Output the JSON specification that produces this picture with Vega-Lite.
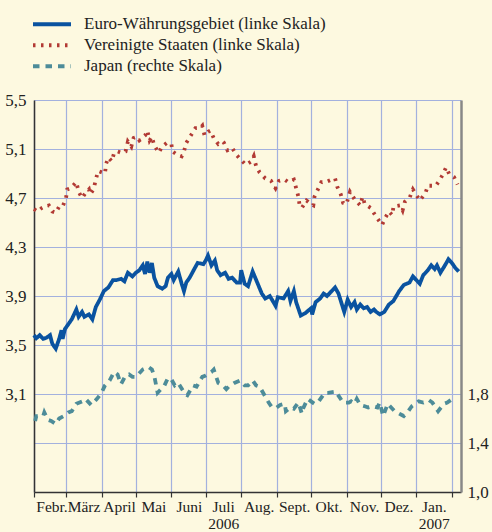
{
"$schema": "https://vega.github.io/schema/vega-lite/v6.json",
"width": 427, "height": 392,
"autosize": {"type": "none"},
"padding": {"left": 34, "top": 100, "right": 31, "bottom": 40},
"background": "#fdf9e0",
"config": {
  "view": {"stroke": null},
  "font": "Liberation Serif",
  "axis": {"labelFont": "Liberation Serif", "labelFontSize": 16, "labelColor": "#222", "gridColor": "#a3b1de", "gridWidth": 1.2, "gridOpacity": 1, "title": null}
},
"datasets": {"y": [
{"d":"2006-02-01","s":"EA","v":3.58},{"d":"2006-02-03","s":"EA","v":3.555},{"d":"2006-02-06","s":"EA","v":3.58},{"d":"2006-02-09","s":"EA","v":3.55},{"d":"2006-02-12","s":"EA","v":3.56},{"d":"2006-02-15","s":"EA","v":3.58},{"d":"2006-02-17","s":"EA","v":3.51},{"d":"2006-02-20","s":"EA","v":3.47},{"d":"2006-02-23","s":"EA","v":3.55},{"d":"2006-02-25","s":"EA","v":3.62},{"d":"2006-02-26","s":"EA","v":3.55},{"d":"2006-02-28","s":"EA","v":3.63},
{"d":"2006-03-03","s":"EA","v":3.67},{"d":"2006-03-06","s":"EA","v":3.71},{"d":"2006-03-10","s":"EA","v":3.79},{"d":"2006-03-12","s":"EA","v":3.73},{"d":"2006-03-15","s":"EA","v":3.77},{"d":"2006-03-17","s":"EA","v":3.73},{"d":"2006-03-21","s":"EA","v":3.75},{"d":"2006-03-24","s":"EA","v":3.71},{"d":"2006-03-27","s":"EA","v":3.81},{"d":"2006-03-31","s":"EA","v":3.88},
{"d":"2006-04-03","s":"EA","v":3.94},{"d":"2006-04-07","s":"EA","v":3.97},{"d":"2006-04-11","s":"EA","v":4.03},{"d":"2006-04-14","s":"EA","v":4.03},{"d":"2006-04-18","s":"EA","v":4.04},{"d":"2006-04-21","s":"EA","v":4.02},{"d":"2006-04-24","s":"EA","v":4.09},{"d":"2006-04-28","s":"EA","v":4.06},
{"d":"2006-05-01","s":"EA","v":4.09},{"d":"2006-05-04","s":"EA","v":4.11},{"d":"2006-05-07","s":"EA","v":4.15},{"d":"2006-05-09","s":"EA","v":4.08},{"d":"2006-05-11","s":"EA","v":4.18},{"d":"2006-05-13","s":"EA","v":4.09},{"d":"2006-05-15","s":"EA","v":4.17},{"d":"2006-05-17","s":"EA","v":4.05},{"d":"2006-05-20","s":"EA","v":3.98},{"d":"2006-05-24","s":"EA","v":3.96},{"d":"2006-05-27","s":"EA","v":3.98},{"d":"2006-05-29","s":"EA","v":4.05},
{"d":"2006-06-01","s":"EA","v":4.08},{"d":"2006-06-03","s":"EA","v":4.03},{"d":"2006-06-07","s":"EA","v":4.10},{"d":"2006-06-10","s":"EA","v":4.00},{"d":"2006-06-12","s":"EA","v":3.94},{"d":"2006-06-14","s":"EA","v":4.01},{"d":"2006-06-17","s":"EA","v":4.05},{"d":"2006-06-21","s":"EA","v":4.12},{"d":"2006-06-24","s":"EA","v":4.17},{"d":"2006-06-29","s":"EA","v":4.16},
{"d":"2006-07-01","s":"EA","v":4.19},{"d":"2006-07-03","s":"EA","v":4.23},{"d":"2006-07-06","s":"EA","v":4.15},{"d":"2006-07-09","s":"EA","v":4.19},{"d":"2006-07-11","s":"EA","v":4.11},{"d":"2006-07-14","s":"EA","v":4.07},{"d":"2006-07-18","s":"EA","v":4.09},{"d":"2006-07-21","s":"EA","v":4.04},{"d":"2006-07-24","s":"EA","v":4.05},{"d":"2006-07-28","s":"EA","v":4.01},{"d":"2006-07-31","s":"EA","v":4.01},
{"d":"2006-08-01","s":"EA","v":4.11},{"d":"2006-08-04","s":"EA","v":4.00},{"d":"2006-08-07","s":"EA","v":3.98},{"d":"2006-08-11","s":"EA","v":4.10},{"d":"2006-08-15","s":"EA","v":4.01},{"d":"2006-08-19","s":"EA","v":3.92},{"d":"2006-08-22","s":"EA","v":3.88},{"d":"2006-08-26","s":"EA","v":3.90},{"d":"2006-08-31","s":"EA","v":3.82},
{"d":"2006-09-02","s":"EA","v":3.89},{"d":"2006-09-07","s":"EA","v":3.88},{"d":"2006-09-11","s":"EA","v":3.94},{"d":"2006-09-13","s":"EA","v":3.86},{"d":"2006-09-16","s":"EA","v":3.94},{"d":"2006-09-18","s":"EA","v":3.85},{"d":"2006-09-22","s":"EA","v":3.74},{"d":"2006-09-26","s":"EA","v":3.76},
{"d":"2006-10-01","s":"EA","v":3.80},{"d":"2006-10-02","s":"EA","v":3.75},{"d":"2006-10-05","s":"EA","v":3.85},{"d":"2006-10-09","s":"EA","v":3.88},{"d":"2006-10-12","s":"EA","v":3.92},{"d":"2006-10-15","s":"EA","v":3.90},{"d":"2006-10-18","s":"EA","v":3.93},{"d":"2006-10-22","s":"EA","v":3.97},{"d":"2006-10-25","s":"EA","v":3.92},{"d":"2006-10-28","s":"EA","v":3.83},{"d":"2006-10-30","s":"EA","v":3.77},
{"d":"2006-11-02","s":"EA","v":3.87},{"d":"2006-11-05","s":"EA","v":3.81},{"d":"2006-11-08","s":"EA","v":3.85},{"d":"2006-11-10","s":"EA","v":3.79},{"d":"2006-11-13","s":"EA","v":3.83},{"d":"2006-11-16","s":"EA","v":3.80},{"d":"2006-11-19","s":"EA","v":3.81},{"d":"2006-11-22","s":"EA","v":3.77},{"d":"2006-11-25","s":"EA","v":3.79},{"d":"2006-11-27","s":"EA","v":3.77},{"d":"2006-11-30","s":"EA","v":3.75},
{"d":"2006-12-04","s":"EA","v":3.77},{"d":"2006-12-08","s":"EA","v":3.83},{"d":"2006-12-12","s":"EA","v":3.86},{"d":"2006-12-17","s":"EA","v":3.94},{"d":"2006-12-21","s":"EA","v":3.99},{"d":"2006-12-26","s":"EA","v":4.01},{"d":"2006-12-29","s":"EA","v":4.06},
{"d":"2007-01-01","s":"EA","v":4.03},{"d":"2007-01-04","s":"EA","v":4.00},{"d":"2007-01-07","s":"EA","v":4.07},{"d":"2007-01-11","s":"EA","v":4.11},{"d":"2007-01-14","s":"EA","v":4.15},{"d":"2007-01-17","s":"EA","v":4.12},{"d":"2007-01-19","s":"EA","v":4.15},{"d":"2007-01-22","s":"EA","v":4.09},{"d":"2007-01-26","s":"EA","v":4.15},{"d":"2007-01-29","s":"EA","v":4.20},{"d":"2007-02-01","s":"EA","v":4.17},{"d":"2007-02-04","s":"EA","v":4.13},{"d":"2007-02-07","s":"EA","v":4.10},
{"d":"2006-02-01","s":"US","v":4.61},{"d":"2006-02-04","s":"US","v":4.59},{"d":"2006-02-08","s":"US","v":4.62},{"d":"2006-02-10","s":"US","v":4.63},{"d":"2006-02-14","s":"US","v":4.64},{"d":"2006-02-17","s":"US","v":4.59},{"d":"2006-02-20","s":"US","v":4.58},{"d":"2006-02-23","s":"US","v":4.63},{"d":"2006-02-26","s":"US","v":4.63},
{"d":"2006-03-01","s":"US","v":4.70},{"d":"2006-03-02","s":"US","v":4.77},{"d":"2006-03-05","s":"US","v":4.78},{"d":"2006-03-10","s":"US","v":4.83},{"d":"2006-03-12","s":"US","v":4.75},{"d":"2006-03-15","s":"US","v":4.70},{"d":"2006-03-18","s":"US","v":4.74},{"d":"2006-03-21","s":"US","v":4.77},{"d":"2006-03-22","s":"US","v":4.73},{"d":"2006-03-25","s":"US","v":4.77},{"d":"2006-03-27","s":"US","v":4.85},{"d":"2006-03-29","s":"US","v":4.92},
{"d":"2006-04-04","s":"US","v":4.90},{"d":"2006-04-05","s":"US","v":4.98},{"d":"2006-04-07","s":"US","v":5.03},{"d":"2006-04-10","s":"US","v":5.00},{"d":"2006-04-12","s":"US","v":5.07},{"d":"2006-04-15","s":"US","v":5.08},{"d":"2006-04-18","s":"US","v":5.07},{"d":"2006-04-22","s":"US","v":5.08},{"d":"2006-04-24","s":"US","v":5.16},{"d":"2006-04-27","s":"US","v":5.12},{"d":"2006-04-29","s":"US","v":5.19},
{"d":"2006-05-02","s":"US","v":5.20},{"d":"2006-05-04","s":"US","v":5.17},{"d":"2006-05-09","s":"US","v":5.21},{"d":"2006-05-11","s":"US","v":5.25},{"d":"2006-05-13","s":"US","v":5.17},{"d":"2006-05-15","s":"US","v":5.20},{"d":"2006-05-17","s":"US","v":5.13},{"d":"2006-05-21","s":"US","v":5.07},{"d":"2006-05-24","s":"US","v":5.12},{"d":"2006-05-28","s":"US","v":5.15},
{"d":"2006-06-01","s":"US","v":5.14},{"d":"2006-06-02","s":"US","v":5.08},{"d":"2006-06-05","s":"US","v":5.06},{"d":"2006-06-10","s":"US","v":5.04},{"d":"2006-06-12","s":"US","v":5.08},{"d":"2006-06-14","s":"US","v":5.15},{"d":"2006-06-18","s":"US","v":5.21},{"d":"2006-06-22","s":"US","v":5.27},{"d":"2006-06-26","s":"US","v":5.27},{"d":"2006-06-28","s":"US","v":5.29},{"d":"2006-06-30","s":"US","v":5.21},
{"d":"2006-07-03","s":"US","v":5.24},{"d":"2006-07-05","s":"US","v":5.25},{"d":"2006-07-08","s":"US","v":5.19},{"d":"2006-07-12","s":"US","v":5.14},{"d":"2006-07-16","s":"US","v":5.16},{"d":"2006-07-17","s":"US","v":5.15},{"d":"2006-07-20","s":"US","v":5.09},{"d":"2006-07-24","s":"US","v":5.11},{"d":"2006-07-28","s":"US","v":5.05},
{"d":"2006-08-02","s":"US","v":5.00},{"d":"2006-08-05","s":"US","v":4.97},{"d":"2006-08-10","s":"US","v":5.00},{"d":"2006-08-12","s":"US","v":5.04},{"d":"2006-08-14","s":"US","v":4.96},{"d":"2006-08-17","s":"US","v":4.91},{"d":"2006-08-22","s":"US","v":4.86},{"d":"2006-08-27","s":"US","v":4.84},{"d":"2006-08-31","s":"US","v":4.78},
{"d":"2006-09-03","s":"US","v":4.84},{"d":"2006-09-08","s":"US","v":4.85},{"d":"2006-09-11","s":"US","v":4.83},{"d":"2006-09-16","s":"US","v":4.85},{"d":"2006-09-18","s":"US","v":4.78},{"d":"2006-09-20","s":"US","v":4.71},{"d":"2006-09-21","s":"US","v":4.64},{"d":"2006-09-23","s":"US","v":4.62},{"d":"2006-09-27","s":"US","v":4.68},
{"d":"2006-10-01","s":"US","v":4.65},{"d":"2006-10-03","s":"US","v":4.64},{"d":"2006-10-04","s":"US","v":4.71},{"d":"2006-10-07","s":"US","v":4.77},{"d":"2006-10-10","s":"US","v":4.83},{"d":"2006-10-14","s":"US","v":4.83},{"d":"2006-10-19","s":"US","v":4.85},{"d":"2006-10-22","s":"US","v":4.86},{"d":"2006-10-24","s":"US","v":4.79},{"d":"2006-10-27","s":"US","v":4.73},{"d":"2006-10-29","s":"US","v":4.66},
{"d":"2006-11-01","s":"US","v":4.65},{"d":"2006-11-03","s":"US","v":4.72},{"d":"2006-11-04","s":"US","v":4.75},{"d":"2006-11-08","s":"US","v":4.69},{"d":"2006-11-11","s":"US","v":4.66},{"d":"2006-11-13","s":"US","v":4.64},{"d":"2006-11-15","s":"US","v":4.71},{"d":"2006-11-17","s":"US","v":4.65},{"d":"2006-11-22","s":"US","v":4.62},{"d":"2006-11-26","s":"US","v":4.56},{"d":"2006-11-29","s":"US","v":4.52},
{"d":"2006-12-02","s":"US","v":4.48},{"d":"2006-12-05","s":"US","v":4.54},{"d":"2006-12-08","s":"US","v":4.59},{"d":"2006-12-11","s":"US","v":4.56},{"d":"2006-12-12","s":"US","v":4.63},{"d":"2006-12-18","s":"US","v":4.64},{"d":"2006-12-20","s":"US","v":4.60},{"d":"2006-12-22","s":"US","v":4.67},{"d":"2006-12-26","s":"US","v":4.70},{"d":"2006-12-29","s":"US","v":4.77},
{"d":"2007-01-02","s":"US","v":4.71},{"d":"2007-01-04","s":"US","v":4.68},{"d":"2007-01-09","s":"US","v":4.74},{"d":"2007-01-11","s":"US","v":4.80},{"d":"2007-01-15","s":"US","v":4.80},{"d":"2007-01-18","s":"US","v":4.80},{"d":"2007-01-21","s":"US","v":4.84},{"d":"2007-01-24","s":"US","v":4.89},{"d":"2007-01-27","s":"US","v":4.95},{"d":"2007-01-30","s":"US","v":4.89},{"d":"2007-02-03","s":"US","v":4.87},{"d":"2007-02-06","s":"US","v":4.81},
{"d":"2006-02-02","s":"JP","v":1.58},{"d":"2006-02-03","s":"JP","v":1.62},{"d":"2006-02-09","s":"JP","v":1.62},{"d":"2006-02-10","s":"JP","v":1.65},{"d":"2006-02-13","s":"JP","v":1.59},{"d":"2006-02-16","s":"JP","v":1.58},{"d":"2006-02-20","s":"JP","v":1.555},{"d":"2006-02-23","s":"JP","v":1.60},{"d":"2006-02-27","s":"JP","v":1.62},
{"d":"2006-03-03","s":"JP","v":1.65},{"d":"2006-03-06","s":"JP","v":1.66},{"d":"2006-03-10","s":"JP","v":1.72},{"d":"2006-03-15","s":"JP","v":1.74},{"d":"2006-03-18","s":"JP","v":1.76},{"d":"2006-03-23","s":"JP","v":1.71},{"d":"2006-03-28","s":"JP","v":1.76},
{"d":"2006-04-01","s":"JP","v":1.81},{"d":"2006-04-04","s":"JP","v":1.87},{"d":"2006-04-08","s":"JP","v":1.91},{"d":"2006-04-12","s":"JP","v":1.98},{"d":"2006-04-15","s":"JP","v":1.96},{"d":"2006-04-18","s":"JP","v":1.88},{"d":"2006-04-22","s":"JP","v":1.95},{"d":"2006-04-25","s":"JP","v":1.96},{"d":"2006-04-28","s":"JP","v":1.94},
{"d":"2006-05-01","s":"JP","v":1.94},{"d":"2006-05-05","s":"JP","v":1.98},{"d":"2006-05-07","s":"JP","v":2.00},{"d":"2006-05-12","s":"JP","v":2.02},{"d":"2006-05-15","s":"JP","v":2.00},{"d":"2006-05-17","s":"JP","v":1.95},{"d":"2006-05-20","s":"JP","v":1.81},{"d":"2006-05-23","s":"JP","v":1.84},{"d":"2006-05-26","s":"JP","v":1.87},{"d":"2006-05-29","s":"JP","v":1.93},
{"d":"2006-06-01","s":"JP","v":1.92},{"d":"2006-06-04","s":"JP","v":1.87},{"d":"2006-06-07","s":"JP","v":1.89},{"d":"2006-06-13","s":"JP","v":1.80},{"d":"2006-06-15","s":"JP","v":1.79},{"d":"2006-06-20","s":"JP","v":1.87},{"d":"2006-06-23","s":"JP","v":1.86},{"d":"2006-06-28","s":"JP","v":1.94},
{"d":"2006-07-01","s":"JP","v":1.95},{"d":"2006-07-06","s":"JP","v":1.98},{"d":"2006-07-08","s":"JP","v":2.00},{"d":"2006-07-12","s":"JP","v":1.89},{"d":"2006-07-16","s":"JP","v":1.87},{"d":"2006-07-19","s":"JP","v":1.84},{"d":"2006-07-21","s":"JP","v":1.86},{"d":"2006-07-26","s":"JP","v":1.89},{"d":"2006-07-31","s":"JP","v":1.91},
{"d":"2006-08-04","s":"JP","v":1.87},{"d":"2006-08-07","s":"JP","v":1.87},{"d":"2006-08-11","s":"JP","v":1.91},{"d":"2006-08-14","s":"JP","v":1.87},{"d":"2006-08-17","s":"JP","v":1.86},{"d":"2006-08-22","s":"JP","v":1.78},{"d":"2006-08-25","s":"JP","v":1.73},{"d":"2006-08-28","s":"JP","v":1.69},
{"d":"2006-09-01","s":"JP","v":1.69},{"d":"2006-09-04","s":"JP","v":1.71},{"d":"2006-09-08","s":"JP","v":1.72},{"d":"2006-09-09","s":"JP","v":1.66},{"d":"2006-09-13","s":"JP","v":1.69},{"d":"2006-09-16","s":"JP","v":1.68},{"d":"2006-09-20","s":"JP","v":1.73},{"d":"2006-09-23","s":"JP","v":1.64},{"d":"2006-09-24","s":"JP","v":1.68},{"d":"2006-09-28","s":"JP","v":1.76},
{"d":"2006-10-01","s":"JP","v":1.74},{"d":"2006-10-04","s":"JP","v":1.72},{"d":"2006-10-07","s":"JP","v":1.73},{"d":"2006-10-13","s":"JP","v":1.81},{"d":"2006-10-16","s":"JP","v":1.81},{"d":"2006-10-23","s":"JP","v":1.82},{"d":"2006-10-24","s":"JP","v":1.80},{"d":"2006-10-29","s":"JP","v":1.73},
{"d":"2006-11-03","s":"JP","v":1.73},{"d":"2006-11-05","s":"JP","v":1.74},{"d":"2006-11-08","s":"JP","v":1.72},{"d":"2006-11-10","s":"JP","v":1.76},{"d":"2006-11-13","s":"JP","v":1.71},{"d":"2006-11-17","s":"JP","v":1.70},{"d":"2006-11-20","s":"JP","v":1.69},{"d":"2006-11-24","s":"JP","v":1.70},{"d":"2006-11-28","s":"JP","v":1.69},{"d":"2006-11-30","s":"JP","v":1.73},
{"d":"2006-12-03","s":"JP","v":1.62},{"d":"2006-12-07","s":"JP","v":1.72},{"d":"2006-12-10","s":"JP","v":1.69},{"d":"2006-12-13","s":"JP","v":1.66},{"d":"2006-12-17","s":"JP","v":1.64},{"d":"2006-12-21","s":"JP","v":1.62},{"d":"2006-12-25","s":"JP","v":1.66},{"d":"2006-12-28","s":"JP","v":1.70},
{"d":"2007-01-03","s":"JP","v":1.74},{"d":"2007-01-07","s":"JP","v":1.73},{"d":"2007-01-12","s":"JP","v":1.75},{"d":"2007-01-15","s":"JP","v":1.73},{"d":"2007-01-20","s":"JP","v":1.66},{"d":"2007-01-25","s":"JP","v":1.72},{"d":"2007-01-28","s":"JP","v":1.73},{"d":"2007-01-31","s":"JP","v":1.75},{"d":"2007-02-05","s":"JP","v":1.76}
]},
"data": {"name": "y"},
"encoding": {
  "x": {"field": "d", "type": "temporal",
    "scale": {"domain": [{"year":2006,"month":2,"date":1},{"year":2007,"month":2,"date":9}], "nice": false},
    "axis": {
      "values": [{"year":2006,"month":2,"date":1},{"year":2006,"month":3,"date":1},{"year":2006,"month":4,"date":1},{"year":2006,"month":5,"date":1},{"year":2006,"month":6,"date":1},{"year":2006,"month":7,"date":1},{"year":2006,"month":8,"date":1},{"year":2006,"month":9,"date":1},{"year":2006,"month":10,"date":1},{"year":2006,"month":11,"date":1},{"year":2006,"month":12,"date":1},{"year":2007,"month":1,"date":1},{"year":2007,"month":2,"date":1}],
      "labelExpr": "year(datum.value) == 2007 && month(datum.value) == 1 ? '' : month(datum.value) == 6 ? ['Juli', '2006'] : month(datum.value) == 0 ? ['Jan.', '2007'] : ['Jan.','Febr.','März','April','Mai','Juni','Juli','Aug.','Sept.','Okt.','Nov.','Dez.'][month(datum.value)]",
      "labelOffset": 17.5, "labelAlign": "center", "labelPadding": 2, "labelFontSize": 15.5,
      "tickSize": 5, "tickColor": "#333", "tickWidth": 1.2,
      "domainColor": "#333", "domainWidth": 1.5, "grid": true, "labelFlush": false, "labelOverlap": false
    }
  },
  "color": {"field": "s", "type": "nominal",
    "scale": {"domain": ["EA","US","JP"], "range": ["#0a53a0","#b23a34","#4d8c99"]},
    "legend": {"title": null, "orient": "none", "legendX": -3, "legendY": -86, "symbolType": "stroke", "symbolSize": 1444, "symbolStrokeWidth": 3.8, "labelFont": "Liberation Serif", "labelFontSize": 17, "labelColor": "#222", "labelOffset": 11, "rowPadding": 0, "clipHeight": 20.5, "labelLimit": 400,
      "labelExpr": "datum.label == 'EA' ? 'Euro-Währungsgebiet (linke Skala)' : datum.label == 'US' ? 'Vereinigte Staaten (linke Skala)' : 'Japan (rechte Skala)'"}
  },
  "strokeDash": {"field": "s", "type": "nominal",
    "scale": {"domain": ["EA","US","JP"], "range": [[1,0],[2.5,5.5],[6.5,6]]},
    "legend": {"title": null, "orient": "none", "legendX": -3, "legendY": -86, "symbolType": "stroke", "symbolSize": 1444, "symbolStrokeWidth": 3.8, "labelFont": "Liberation Serif", "labelFontSize": 17, "labelColor": "#222", "labelOffset": 11, "rowPadding": 0, "clipHeight": 20.5, "labelLimit": 400,
      "labelExpr": "datum.label == 'EA' ? 'Euro-Währungsgebiet (linke Skala)' : datum.label == 'US' ? 'Vereinigte Staaten (linke Skala)' : 'Japan (rechte Skala)'"}
  }
},
"layer": [
  {"transform": [{"filter": "datum.s != 'JP'"}],
   "mark": {"type": "line", "strokeWidth": 3.8},
   "encoding": {"y": {"field": "v", "type": "quantitative",
     "scale": {"domain": [2.3, 5.5], "nice": false, "zero": false},
     "axis": {"orient": "left", "values": [2.7,3.1,3.5,3.9,4.3,4.7,5.1,5.5], "labelExpr": "datum.value < 3 ? '' : replace(format(datum.value, '.1f'), '.', ',')", "ticks": false, "labelPadding": 8, "labelFontSize": 17, "domainColor": "#333", "domainWidth": 1.5, "grid": true}}}
  },
  {"transform": [{"filter": "datum.s == 'JP'"}],
   "mark": {"type": "line", "strokeWidth": 3.8},
   "encoding": {"y": {"field": "v", "type": "quantitative",
     "scale": {"domain": [1.0, 4.2], "nice": false, "zero": false},
     "axis": {"orient": "right", "values": [1.0,1.4,1.8], "labelExpr": "replace(format(datum.value, '.1f'), '.', ',')", "ticks": false, "labelPadding": 6, "labelFontSize": 17, "domainColor": "#888", "domainWidth": 2.5, "grid": false}}}
  }
],
"resolve": {"scale": {"y": "independent"}}
}
